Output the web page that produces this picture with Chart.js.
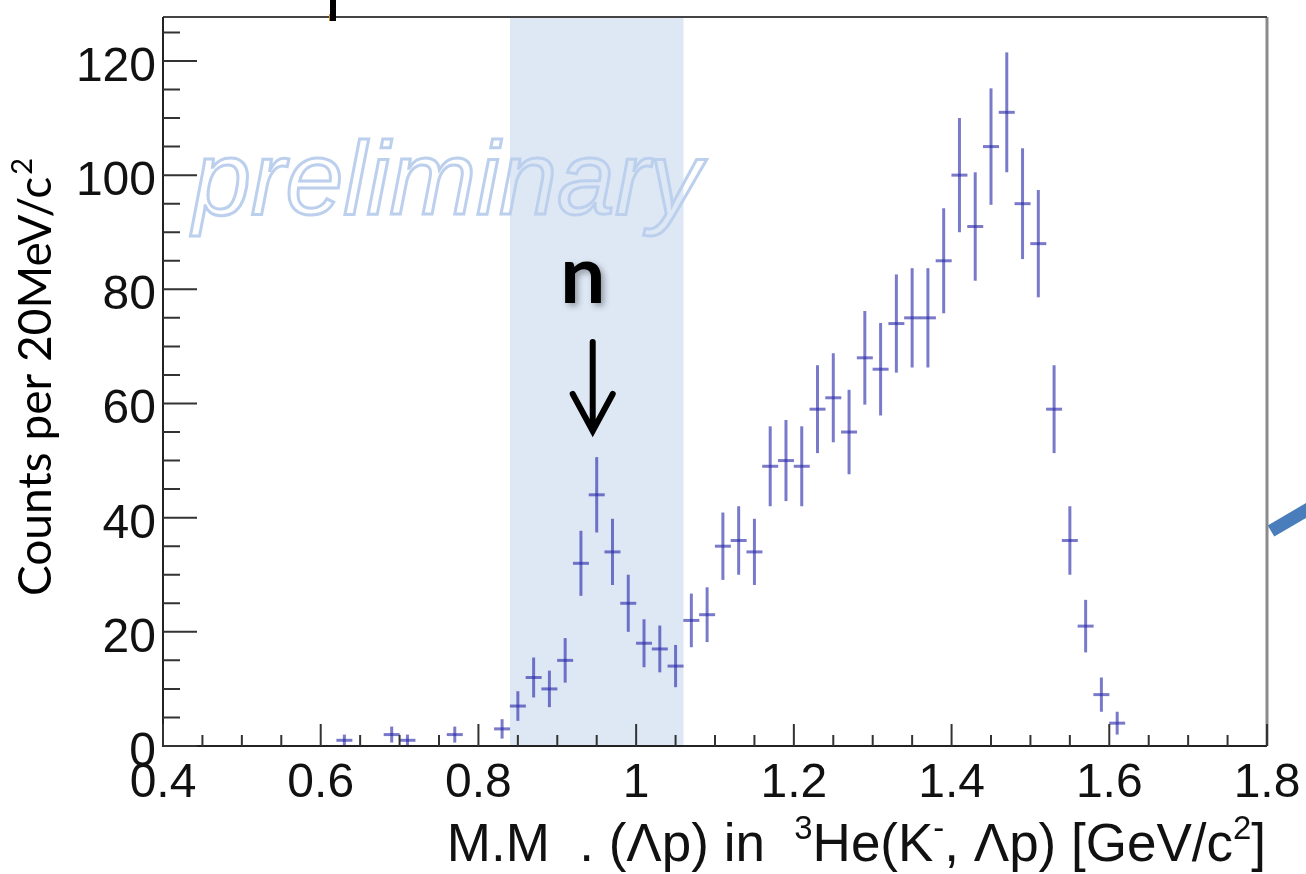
<!doctype html>
<html>
<head>
<meta charset="utf-8">
<script src="https://cdn.jsdelivr.net/npm/chart.js"></script>
<style>
body { margin: 0; background: #fff; }
#chart { display: block; }
</style>
</head>
<body>
<canvas id="chart" width="1306" height="874"></canvas>
<script>
// bin centres (GeV/c^2), counts and error bars
var massBins = [0.63, 0.69, 0.71, 0.77, 0.83, 0.85, 0.87, 0.89, 0.91, 0.93,
	0.95, 0.97, 0.99, 1.01, 1.03, 1.05, 1.07, 1.09, 1.11, 1.13,
	1.15, 1.17, 1.19, 1.21, 1.23, 1.25, 1.27, 1.29, 1.31, 1.33,
	1.35, 1.37, 1.39, 1.41, 1.43, 1.45, 1.47, 1.49, 1.51, 1.53,
	1.55, 1.57, 1.59, 1.61];
var counts = [1, 2, 1, 2, 3, 7, 12, 10, 15, 32,
	44, 34, 25, 18, 17, 14, 22, 23, 35, 36,
	34, 49, 50, 49, 59, 61, 55, 68, 66, 74,
	75, 75, 85, 100, 91, 105, 111, 95, 88, 59,
	36, 21, 9, 4];
var countErrors = [1, 1.4, 1, 1.4, 1.7, 2.6, 3.5, 3.2, 3.9, 5.7,
	6.6, 5.8, 5, 4.2, 4.1, 3.7, 4.7, 4.8, 5.9, 6,
	5.8, 7, 7.1, 7, 7.7, 7.8, 7.4, 8.2, 8.1, 8.6,
	8.7, 8.7, 9.2, 10, 9.5, 10.2, 10.5, 9.7, 9.4, 7.7,
	6, 4.6, 3, 2];
var xTickValues = [0.4, 0.6, 0.8, 1.0, 1.2, 1.4, 1.6, 1.8];
var xTickLabels = ['0.4', '0.6', '0.8', '1', '1.2', '1.4', '1.6', '1.8'];
var yTickValues = [0, 20, 40, 60, 80, 100, 120];
var yTickLabels = ['0', '20', '40', '60', '80', '100', '120'];
var neutronBand = [0.84, 1.06];
var neutronPeak = 0.95;

var points = massBins.map(function (m, i) { return { x: m, y: counts[i] }; });

var barColor = 'rgba(40, 40, 170, 0.62)';
var axisFont = '"Liberation Sans", Arial, sans-serif';
var noteFont = 'Lato, "Noto Sans", sans-serif';

function drawRuns(ctx, runs, x, y, size, align) {
	// runs: [text, isSuperscript]
	var total = 0;
	runs.forEach(function (r) {
		ctx.font = (r[1] ? size * 0.62 : size) + 'px ' + axisFont;
		total += ctx.measureText(r[0]).width;
	});
	var cx = align === 'right' ? x - total : x;
	runs.forEach(function (r) {
		ctx.font = (r[1] ? size * 0.62 : size) + 'px ' + axisFont;
		ctx.fillText(r[0], cx, r[1] ? y - size * 0.42 : y);
		cx += ctx.measureText(r[0]).width;
	});
}

var bandPlugin = {
	id: 'band',
	beforeDatasetsDraw: function (chart) {
		var ctx = chart.ctx, a = chart.chartArea, xs = chart.scales.x;
		ctx.save();
		ctx.fillStyle = 'rgb(222, 232, 245)';
		var x0 = xs.getPixelForValue(neutronBand[0]);
		var x1 = xs.getPixelForValue(neutronBand[1]);
		ctx.fillRect(x0, a.top, x1 - x0, a.bottom - a.top);
		// watermark
		ctx.font = 'italic 104px ' + axisFont;
		ctx.strokeStyle = 'rgb(188, 208, 238)';
		ctx.lineWidth = 3;
		ctx.textBaseline = 'alphabetic';
		ctx.strokeText('preliminary', a.left + 30, 214);
		ctx.restore();
	}
};

var errorBarPlugin = {
	id: 'errorBars',
	afterDatasetsDraw: function (chart) {
		var ctx = chart.ctx, xs = chart.scales.x, ys = chart.scales.y;
		ctx.save();
		ctx.strokeStyle = barColor;
		ctx.lineWidth = 3;
		massBins.forEach(function (m, i) {
			var px = xs.getPixelForValue(m);
			var top = ys.getPixelForValue(counts[i] + countErrors[i]);
			var bot = ys.getPixelForValue(Math.max(0, counts[i] - countErrors[i]));
			ctx.beginPath();
			ctx.moveTo(px, top);
			ctx.lineTo(px, bot);
			ctx.stroke();
		});
		ctx.restore();
	}
};

var framePlugin = {
	id: 'frame',
	afterDraw: function (chart) {
		var ctx = chart.ctx, a = chart.chartArea, xs = chart.scales.x, ys = chart.scales.y;
		ctx.save();
		// right border (grey) and top border
		ctx.strokeStyle = '#8a8a8a';
		ctx.lineWidth = 3;
		ctx.beginPath();
		ctx.moveTo(a.right, a.top);
		ctx.lineTo(a.right, a.bottom);
		ctx.stroke();
		ctx.strokeStyle = '#444';
		ctx.lineWidth = 2;
		ctx.beginPath();
		ctx.moveTo(a.left, a.top);
		ctx.lineTo(a.right, a.top);
		ctx.stroke();
		ctx.strokeStyle = '#222';
		ctx.beginPath();
		ctx.moveTo(a.left, a.top);
		ctx.lineTo(a.left, a.bottom);
		ctx.lineTo(a.right, a.bottom);
		ctx.stroke();

		// inward ticks
		ctx.lineWidth = 2;
		ctx.strokeStyle = '#333';
		ctx.beginPath();
		for (var v = 0; v <= ys.max; v += 5) {
			var py = ys.getPixelForValue(v);
			var len = v % 20 === 0 ? 34 : 17;
			ctx.moveTo(a.left, py);
			ctx.lineTo(a.left + len, py);
		}
		for (var k = 0; k <= 28; k++) {
			var xv = 0.4 + k * 0.05;
			var px = xs.getPixelForValue(xv);
			var l2 = k % 4 === 0 ? 22 : 11;
			ctx.moveTo(px, a.bottom);
			ctx.lineTo(px, a.bottom - l2);
		}
		ctx.stroke();

		// tick labels
		ctx.fillStyle = '#111';
		ctx.font = '48px ' + axisFont;
		ctx.textAlign = 'right';
		ctx.textBaseline = 'alphabetic';
		yTickValues.forEach(function (v, i) {
			ctx.fillText(yTickLabels[i], a.left - 7, ys.getPixelForValue(v) + 20);
		});
		ctx.textAlign = 'center';
		xTickValues.forEach(function (v, i) {
			ctx.fillText(xTickLabels[i], xs.getPixelForValue(v), 797);
		});

		// x axis title
		ctx.textAlign = 'left';
		drawRuns(ctx, [['M.M  . (\u039Bp) in  ', false], ['3', true], ['He(K', false], ['-', true],
			[', \u039Bp) [GeV/c', false], ['2', true], [']', false]], 1266, 861, 53, 'right');

		// y axis title (added on the slide)
		ctx.translate(51, 596);
		ctx.rotate(-Math.PI / 2);
		ctx.font = '46px ' + noteFont;
		ctx.fillStyle = '#000';
		ctx.fillText('Counts per 20MeV/c', 0, 0);
		var w = ctx.measureText('Counts per 20MeV/c').width;
		ctx.font = '29px ' + noteFont;
		ctx.fillText('2', w + 2, -19);
		ctx.restore();

		// neutron marker
		ctx.save();
		var nx = xs.getPixelForValue(neutronPeak) - 4;
		ctx.font = 'bold 80px ' + noteFont;
		ctx.textAlign = 'center';
		ctx.fillStyle = '#000';
		ctx.shadowColor = 'rgba(0,0,0,0.35)';
		ctx.shadowBlur = 6;
		ctx.shadowOffsetX = 3;
		ctx.shadowOffsetY = 3;
		ctx.fillText('n', nx - 10, 303);
		ctx.shadowColor = 'transparent';
		ctx.strokeStyle = '#000';
		ctx.lineWidth = 6;
		ctx.lineCap = 'round';
		ctx.lineJoin = 'miter';
		ctx.beginPath();
		ctx.moveTo(nx, 342);
		ctx.lineTo(nx, 430);
		ctx.moveTo(nx - 20, 394);
		ctx.lineTo(nx, 431);
		ctx.lineTo(nx + 20, 394);
		ctx.stroke();

		// slide leftovers: small bar at top, blue arrow stub at right
		ctx.fillStyle = '#000';
		ctx.fillRect(330, 0, 6, 21);
		ctx.fillStyle = '#d98a2b';
		ctx.fillRect(329, 14, 1, 7);
		ctx.strokeStyle = '#4a7dbb';
		ctx.lineWidth = 13;
		ctx.lineCap = 'butt';
		ctx.beginPath();
		ctx.moveTo(1271, 531);
		ctx.lineTo(1312, 507);
		ctx.stroke();
		ctx.restore();
	}
};

new Chart(document.getElementById('chart'), {
	type: 'scatter',
	data: {
		datasets: [{
			label: 'data',
			data: points,
			pointStyle: 'line',
			pointRadius: 8,
			pointHoverRadius: 8,
			borderWidth: 3,
			borderColor: barColor,
			backgroundColor: barColor
		}]
	},
	options: {
		responsive: false,
		animation: false,
		devicePixelRatio: 1,
		layout: { padding: { left: 163, top: 17, right: 39, bottom: 128 } },
		plugins: { legend: { display: false }, tooltip: { enabled: false } },
		scales: {
			x: { type: 'linear', min: 0.4, max: 1.8, display: false },
			y: { type: 'linear', min: 0, max: 127.7, display: false }
		}
	},
	plugins: [bandPlugin, errorBarPlugin, framePlugin]
});
</script>
</body>
</html>
